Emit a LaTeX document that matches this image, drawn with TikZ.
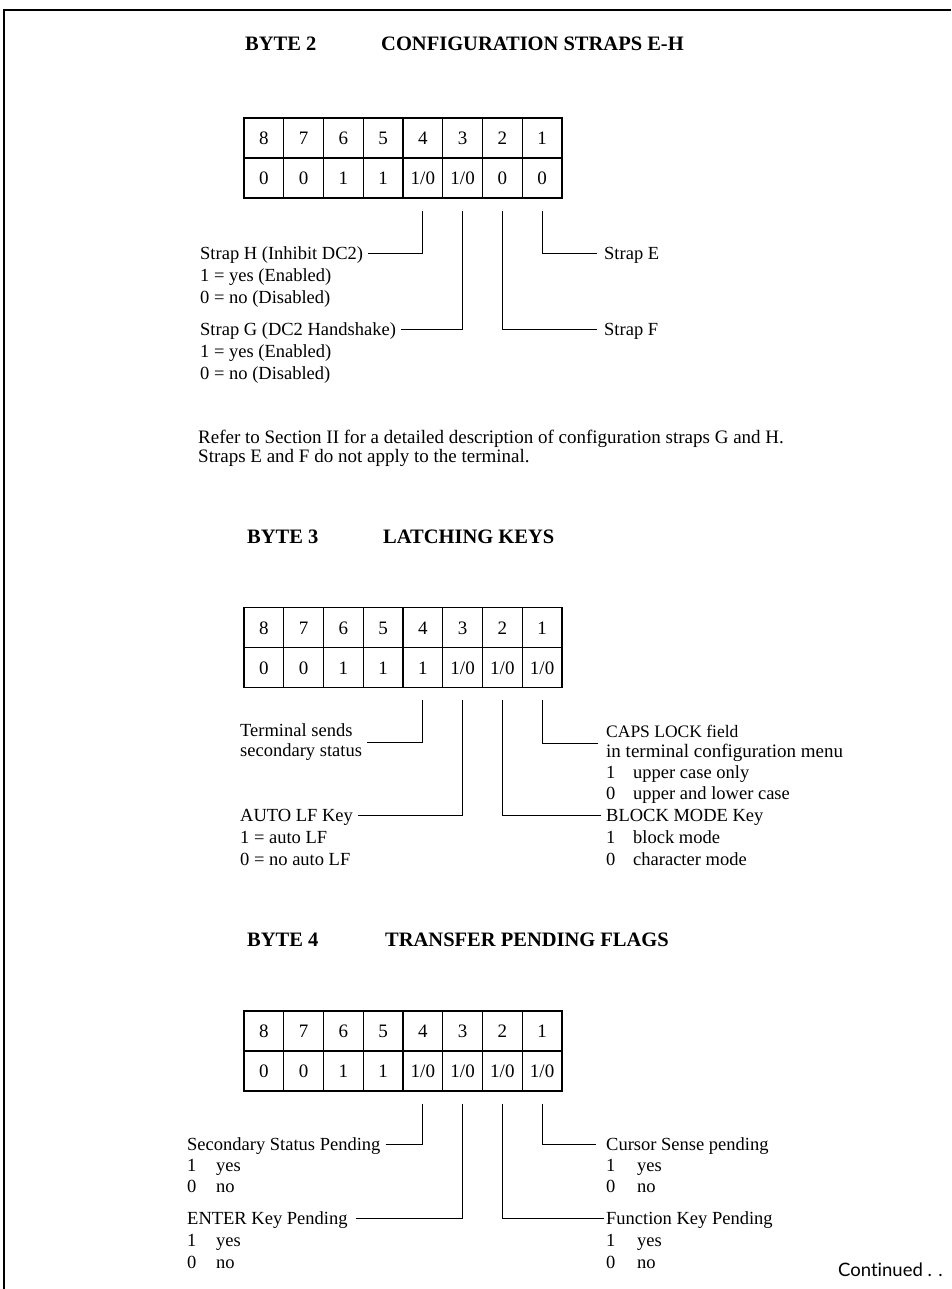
\documentclass[tikz,border=0pt]{standalone}
\usepackage{fontspec}
\setmainfont{Liberation Serif}
\newfontfamily\contfont[Ligatures=NoCommon]{Lato}
\newcommand\hf{1/0}
\begin{document}
\begin{tikzpicture}[x=1pt,y=-1pt,
  lbl/.style={anchor=west, inner sep=0pt, text height=14pt, text depth=2pt, font=\fontsize{18.5}{22}\selectfont},
  two/.style={anchor=west, inner sep=0pt, align=left, font=\fontsize{18.5}{20}\selectfont},
  ttl/.style={anchor=west, inner sep=0pt, text height=14pt, text depth=2pt, font=\fontsize{20.5}{24}\selectfont\bfseries},
  para/.style={anchor=west, inner sep=0pt, text height=14pt, text depth=2pt, font=\fontsize{19}{20}\selectfont},
  cell/.style={draw, line width=1.1pt, minimum width=39.75pt, minimum height=40pt, inner sep=0pt, text height=13pt, text depth=0pt, font=\fontsize{19}{22}\selectfont},
  lead/.style={line width=1pt},
  frame/.style={line width=1.6pt}]
\useasboundingbox (0,0) rectangle (951,1289);
\draw[frame] (951,10) -- (4,10) -- (4,1289);

% ---------------- BYTE 2 ----------------
\node[ttl] (h2a) at (245,45) {BYTE 2};
\node[ttl] (h2b) at (381,45) {CONFIGURATION STRAPS E-H};
\foreach \k/\b in {1/0,2/0,3/1,4/1,5/\hf,6/\hf,7/0,8/0} {
  \pgfmathtruncatemacro\t{9-\k}
  \node[cell] (ta\t) at ({244+39.75*(\k-0.5)},138) {\t};
  \node[cell] (tb\t) at ({244+39.75*(\k-0.5)},178) {\b};
}
\node[lbl] (sH) at (200,253) {Strap H (Inhibit DC2)};
\node[lbl] (sH1) at (200,275) {1 = yes (Enabled)};
\node[lbl] (sH0) at (200,297) {0 = no (Disabled)};
\node[lbl] (sG) at (200,329) {Strap G (DC2 Handshake)};
\node[lbl] (sG1) at (200,351) {1 = yes (Enabled)};
\node[lbl] (sG0) at (200,373) {0 = no (Disabled)};
\node[lbl] (sE) at (604,253) {Strap E};
\node[lbl] (sF) at (604,329) {Strap F};
\draw[lead] ([xshift=5pt]sH.east) -| ([yshift=-12pt]tb4.south);
\draw[lead] ([xshift=5pt]sG.east) -| ([yshift=-12pt]tb3.south);
\draw[lead] ([xshift=-7pt]sE.west) -| ([yshift=-12pt]tb1.south);
\draw[lead] ([xshift=-7pt]sF.west) -| ([yshift=-12pt]tb2.south);

\node[para] (ref1) at (198,437) {Refer to Section II for a detailed description of configuration straps G and H.};
\node[para] (ref2) at (198,456) {Straps E and F do not apply to the terminal.};

% ---------------- BYTE 3 ----------------
\node[ttl] (h3a) at (247,537) {BYTE 3};
\node[ttl] (h3b) at (383,537) {LATCHING KEYS};
\foreach \k/\b in {1/0,2/0,3/1,4/1,5/1,6/\hf,7/\hf,8/\hf} {
  \pgfmathtruncatemacro\t{9-\k}
  \node[cell] (ua\t) at ({244+39.75*(\k-0.5)},627.5) {\t};
  \node[cell] (ub\t) at ({244+39.75*(\k-0.5)},667.5) {\b};
}
\node[two] (tS) at (240,742) {Terminal sends\\secondary status};
\draw[lead] ([xshift=5pt]tS.east) -| ([yshift=-12pt]ub4.south);
\node[lbl] (aL) at (240,815) {AUTO LF Key};
\node[lbl] (aL1) at (240,837) {1 = auto LF};
\node[lbl] (aL0) at (240,859) {0 = no auto LF};
\draw[lead] ([xshift=5pt]aL.east) -| ([yshift=-12pt]ub3.south);
\node[lbl, font=\fontsize{17.5}{22}\selectfont] (cL) at (606,731) {CAPS LOCK field};
\node[lbl, font=\fontsize{19}{22}\selectfont] (cL2) at (606,751) {in terminal configuration menu};
\node[lbl] (cL3) at (606,772) {\makebox[27pt][l]{1}upper case only};
\node[lbl] (cL4) at (606,793) {\makebox[27pt][l]{0}upper and lower case};
\coordinate (cLe) at (598,743);
\draw[lead] (cLe) -| ([yshift=-12pt]ub1.south);
\node[lbl] (bM) at (606,815) {BLOCK MODE Key};
\node[lbl] (bM1) at (606,837) {\makebox[27pt][l]{1}block mode};
\node[lbl] (bM0) at (606,859) {\makebox[27pt][l]{0}character mode};
\draw[lead] ([xshift=-5pt]bM.west) -| ([yshift=-12pt]ub2.south);

% ---------------- BYTE 4 ----------------
\node[ttl] (h4a) at (247,940) {BYTE 4};
\node[ttl] (h4b) at (385,940) {TRANSFER PENDING FLAGS};
\foreach \k/\b in {1/0,2/0,3/1,4/1,5/\hf,6/\hf,7/\hf,8/\hf} {
  \pgfmathtruncatemacro\t{9-\k}
  \node[cell] (va\t) at ({244+39.75*(\k-0.5)},1031) {\t};
  \node[cell] (vb\t) at ({244+39.75*(\k-0.5)},1071) {\b};
}
\node[lbl] (sS) at (187,1144) {Secondary Status Pending};
\node[lbl] (sS1) at (187,1165) {\makebox[29pt][l]{1}yes};
\node[lbl] (sS0) at (187,1186) {\makebox[29pt][l]{0}no};
\draw[lead] ([xshift=5pt]sS.east) -| ([yshift=-12pt]vb4.south);
\node[lbl] (eK) at (187,1218) {ENTER Key Pending};
\node[lbl] (eK1) at (187,1240) {\makebox[29pt][l]{1}yes};
\node[lbl] (eK0) at (187,1262) {\makebox[29pt][l]{0}no};
\draw[lead] ([xshift=8pt]eK.east) -| ([yshift=-12pt]vb3.south);
\node[lbl] (cS) at (606,1144) {Cursor Sense pending};
\node[lbl] (cS1) at (606,1165) {\makebox[31pt][l]{1}yes};
\node[lbl] (cS0) at (606,1186) {\makebox[31pt][l]{0}no};
\draw[lead] ([xshift=-10pt]cS.west) -| ([yshift=-12pt]vb1.south);
\node[lbl] (fK) at (606,1218) {Function Key Pending};
\node[lbl] (fK1) at (606,1240) {\makebox[31pt][l]{1}yes};
\node[lbl] (fK0) at (606,1262) {\makebox[31pt][l]{0}no};
\draw[lead] ([xshift=-2pt]fK.west) -| ([yshift=-12pt]vb2.south);

\node[anchor=west, inner sep=0pt, text height=14pt, text depth=2pt, font=\contfont\fontsize{18.5}{22}\selectfont] (cont) at (838,1270) {Continued . .};
\end{tikzpicture}
\end{document}
